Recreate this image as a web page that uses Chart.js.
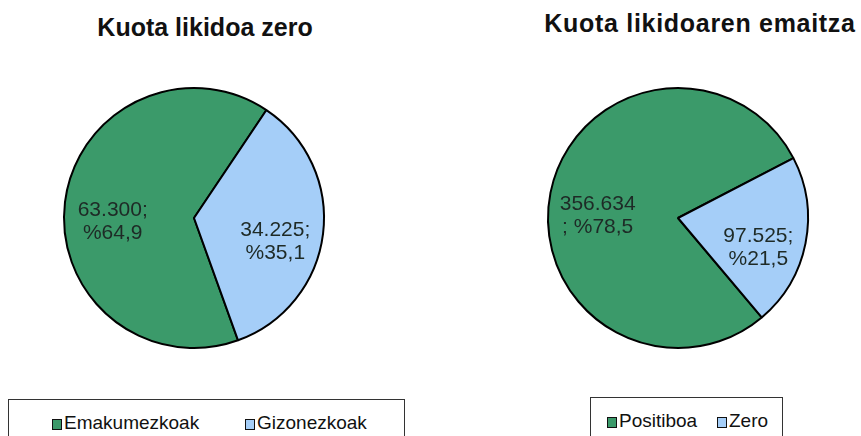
<!DOCTYPE html>
<html>
<head>
<meta charset="utf-8">
<script src="https://cdn.jsdelivr.net/npm/chart.js@4"></script>
<style>
  html, body { margin: 0; padding: 0; background: #fff; }
  body { width: 861px; height: 436px; position: relative; overflow: hidden; font-family: "Liberation Sans", Arial, sans-serif; }
  .title { position: absolute; font-weight: bold; font-size: 25px; color: #111; white-space: nowrap; transform: translate(-50%, -50%); }
  .pie { position: absolute; }
  .legend { position: absolute; border: 1px solid #333; height: 60px; box-sizing: border-box; }
  .item { position: absolute; top: 12px; font-size: 19px; color: #111; white-space: nowrap; line-height: 22px; }
  .sw { display: inline-block; width: 8px; height: 9px; border: 1.5px solid #111; margin-right: 2px; vertical-align: -1px; }
</style>
</head>
<body>
<div class="title" id="t1" style="left:205px; top:27px;"></div>
<div class="title" id="t2" style="left:700px; top:23px; letter-spacing:0.7px;"></div>
<canvas class="pie" id="c1" width="280" height="280" style="left:54px; top:78px;"></canvas>
<canvas class="pie" id="c2" width="280" height="280" style="left:538px; top:78px;"></canvas>
<div class="legend" id="lg1" style="left:8px; top:399px; width:397px;"></div>
<div class="legend" id="lg2" style="left:590px; top:397px; width:193px;"></div>
<script>
// ---- Data ----
const titleA = "Kuota likidoa zero";
const categoriesA = ["Emakumezkoak", "Gizonezkoak"];
const valuesA = [63300, 34225];

const titleB = "Kuota likidoaren emaitza";
const categoriesB = ["Positiboa", "Zero"];
const valuesB = [356634, 97525];

// ---- Styles ----
const sliceColors = ["#3B9A6A", "#A5CEF8"];
const labelBreakA = [false, false];   // Excel wrap style per label
const labelBreakB = [true, false];

function fmtNum(v) {
  return String(v).replace(/\B(?=(\d{3})+(?!\d))/g, ".");
}
function fmtPct(v, total) {
  return "%" + (v / total * 100).toFixed(1).replace(".", ",");
}
function labelLines(values, breaks) {
  const total = values.reduce((a, b) => a + b, 0);
  return values.map((v, i) => breaks[i]
    ? [fmtNum(v), "; " + fmtPct(v, total)]
    : [fmtNum(v) + ";", fmtPct(v, total)]);
}

const sliceLabels = {
  id: "sliceLabels",
  afterDatasetsDraw(chart, args, opts) {
    const ctx = chart.ctx;
    const meta = chart.getDatasetMeta(0);
    ctx.save();
    ctx.font = "21px 'Liberation Sans', Arial, sans-serif";
    ctx.fillStyle = "#1e2a26";
    ctx.textAlign = "center";
    ctx.textBaseline = "middle";
    meta.data.forEach((arc, i) => {
      const p = arc.getProps(["x", "y", "startAngle", "endAngle", "outerRadius"], true);
      const mid = (p.startAngle + p.endAngle) / 2;
      const r = p.outerRadius * 0.63;
      const x = p.x + Math.cos(mid) * r;
      const y = p.y + Math.sin(mid) * r + 2;
      const lines = opts.lines[i];
      lines.forEach((t, k) => ctx.fillText(t, x, y + k * 23));
    });
    ctx.restore();
  }
};

function makePie(id, cats, vals, rotation, breaks) {
  new Chart(document.getElementById(id), {
    type: "pie",
    data: {
      labels: cats,
      datasets: [{
        data: vals,
        backgroundColor: sliceColors,
        borderColor: "#000",
        borderWidth: 2
      }]
    },
    options: {
      responsive: false,
      animation: false,
      devicePixelRatio: 1,
      rotation: rotation,
      radius: 130,
      layout: { padding: 0 },
      plugins: {
        legend: { display: false },
        tooltip: { enabled: false },
        title: { display: false },
        sliceLabels: { lines: labelLines(vals, breaks) }
      }
    },
    plugins: [sliceLabels]
  });
}

makePie("c1", categoriesA, valuesA, 160.2, labelBreakA);
makePie("c2", categoriesB, valuesB, 139.9, labelBreakB);

document.getElementById("t1").textContent = titleA;
document.getElementById("t2").textContent = titleB;

function buildLegend(id, cats, positions) {
  const el = document.getElementById(id);
  cats.forEach((c, i) => {
    const d = document.createElement("div");
    d.className = "item";
    d.style.left = positions[i] + "px";
    const sw = document.createElement("span");
    sw.className = "sw";
    sw.style.background = sliceColors[i];
    d.appendChild(sw);
    d.appendChild(document.createTextNode(c));
    el.appendChild(d);
  });
}
buildLegend("lg1", categoriesA, [43, 236]);
buildLegend("lg2", categoriesB, [16, 126]);
</script>
</body>
</html>
